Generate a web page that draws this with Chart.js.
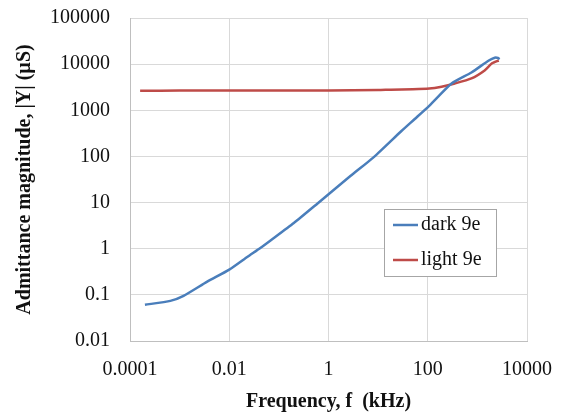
<!DOCTYPE html>
<html>
<head>
<meta charset="utf-8">
<script src="https://cdn.jsdelivr.net/npm/chart.js@4/dist/chart.umd.min.js"></script>
<style>
html,body{margin:0;padding:0;background:#fff;}
#wrap{width:563px;height:417px;position:relative;}
</style>
</head>
<body>
<div id="wrap"><canvas id="c" width="563" height="417"></canvas></div>
<script>
// ---- data ----
const seriesNames = ["dark 9e", "light 9e"];
const darkFreq = [0.0002, 0.00065, 0.0012, 0.0036, 0.01, 0.0234, 0.043, 0.068, 0.2, 0.61, 1.12, 2.8, 8.3, 29.5, 54, 107, 302, 760, 1700, 2240, 2600, 2800];
const darkAdm  = [0.061, 0.074, 0.095, 0.193, 0.352, 0.67, 1.05, 1.51, 3.6, 9.7, 16.8, 38, 98, 355, 640, 1250, 3800, 6600, 12000, 13800, 13600, 12800];
const lightFreq = [0.00016, 0.001, 0.01, 0.1, 1, 10, 18, 50, 107, 190, 350, 760, 1400, 1950, 2700];
const lightAdm  = [2650, 2670, 2690, 2700, 2700, 2750, 2800, 2850, 2950, 3250, 3800, 4900, 7300, 10300, 12000];
const xTicks = [0.0001, 0.01, 1, 100, 10000];
const xTickLabels = ["0.0001", "0.01", "1", "100", "10000"];
const yTicks = [0.01, 0.1, 1, 10, 100, 1000, 10000, 100000];
const yTickLabels = ["0.01", "0.1", "1", "10", "100", "1000", "10000", "100000"];
const xTitle = "Frequency, f  (kHz)";
const yTitle = "Admittance magnitude, |Y| (\u00B5S)";

const colors = ["#4a7ebb", "#be4b48"];
const serif = "'Liberation Serif', 'Times New Roman', serif";

function pts(xs, ys){ return xs.map((x,i)=>({x:x, y:ys[i]})); }

const legendPlugin = {
  id: 'boxLegend',
  afterDraw(chart){
    const ctx = chart.ctx, ca = chart.chartArea;
    const left = ca.right - 143, top = ca.top + 191, w = 112, h = 67;
    ctx.save();
    ctx.fillStyle = '#fff';
    ctx.fillRect(left, top, w, h);
    ctx.strokeStyle = '#a6a6a6';
    ctx.lineWidth = 1;
    ctx.strokeRect(left + 0.5, top + 0.5, w, h);
    ctx.font = "20px " + serif;
    ctx.textBaseline = 'middle';
    chart.data.datasets.forEach((ds, i) => {
      const y = top + 16 + i * 35;
      ctx.strokeStyle = ds.borderColor;
      ctx.lineWidth = 2.5;
      ctx.beginPath();
      ctx.moveTo(left + 9, y);
      ctx.lineTo(left + 34, y);
      ctx.stroke();
      ctx.fillStyle = '#111';
      ctx.fillText(ds.label, left + 37, y);
    });
    ctx.restore();
  }
};

new Chart(document.getElementById('c'), {
  type: 'line',
  data: {
    datasets: [
      { label: seriesNames[0], data: pts(darkFreq, darkAdm), borderColor: colors[0], backgroundColor: colors[0], borderWidth: 2.5, pointRadius: 0, tension: 0.2, fill: false },
      { label: seriesNames[1], data: pts(lightFreq, lightAdm), borderColor: colors[1], backgroundColor: colors[1], borderWidth: 2.5, pointRadius: 0, tension: 0.2, fill: false }
    ]
  },
  options: {
    responsive: false,
    animation: false,
    layout: { padding: { top: 18, right: 36, left: 0, bottom: 0 } },
    plugins: { legend: { display: false }, tooltip: { enabled: false } },
    scales: {
      x: {
        type: 'logarithmic', min: 0.0001, max: 10000,
        afterBuildTicks(s){ s.ticks = xTicks.map(v => ({value: v})); },
        afterFit(s){ s.height = 76; s.paddingLeft = 0; s.paddingRight = 0; },
        ticks: { color: '#111', font: { family: serif, size: 20 }, padding: 17, maxRotation: 0, autoSkip: false,
          callback(v){ const i = xTicks.indexOf(v); return i >= 0 ? xTickLabels[i] : ''; } },
        grid: { color: '#d9d9d9', lineWidth: 1, drawTicks: false },
        border: { color: '#bfbfbf', width: 1 },
        title: { display: true, text: xTitle, color: '#111', font: { family: serif, size: 20, weight: 'bold' }, padding: { top: 0, bottom: 3 } }
      },
      y: {
        type: 'logarithmic', min: 0.01, max: 100000,
        afterBuildTicks(s){ s.ticks = yTicks.map(v => ({value: v})); },
        afterFit(s){ s.width = 130; s.paddingTop = 0; s.paddingBottom = 0; },
        ticks: { color: '#111', font: { family: serif, size: 20 }, padding: 20, autoSkip: false,
          callback(v){ const i = yTicks.indexOf(v); return i >= 0 ? yTickLabels[i] : ''; } },
        grid: { color: '#d9d9d9', lineWidth: 1, drawTicks: false },
        border: { color: '#bfbfbf', width: 1 },
        title: { display: true, text: yTitle, color: '#111', font: { family: serif, size: 20, weight: 'bold' }, padding: { top: 13, bottom: 0 } }
      }
    }
  },
  plugins: [legendPlugin]
});
</script>
</body>
</html>
